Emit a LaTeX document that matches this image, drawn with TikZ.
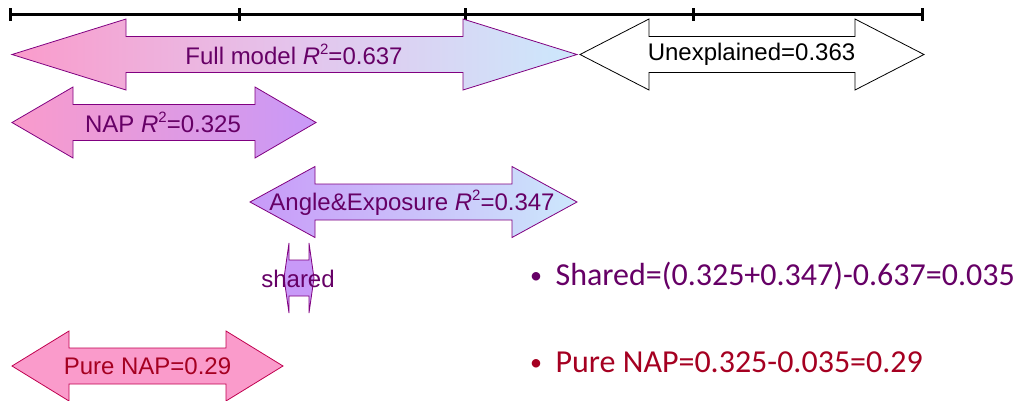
\documentclass[tikz,border=0pt]{standalone}
\usepackage{fontspec}
\setmainfont{Liberation Sans}
\newfontfamily\calib{Carlito}
\definecolor{txtpurp}{HTML}{660066}
\definecolor{txtred}{HTML}{A50021}
\definecolor{edgepurp}{HTML}{800080}
\definecolor{edgered}{HTML}{C0004F}
\definecolor{pinkf}{HTML}{FA9BCB}
\definecolor{purpf}{HTML}{C899F8}
\definecolor{bluef}{HTML}{CCE8FC}
\definecolor{lavf}{HTML}{E4C4EC}
% #1 style, #2 left tip x, #3 right tip x, #4 head length, #5 centre y, #6 head half height, #7 shaft half height
\newcommand{\dblarr}[7]{%
  \draw[#1] (#2,#5) -- (#2+#4,#5-#6) -- (#2+#4,#5-#7) -- (#3-#4,#5-#7)
    -- (#3-#4,#5-#6) -- (#3,#5) -- (#3-#4,#5+#6) -- (#3-#4,#5+#7)
    -- (#2+#4,#5+#7) -- (#2+#4,#5+#6) -- cycle;}
\newcommand{\rsq}{{\itshape R}\raisebox{0.42em}{\fontsize{15}{15}\selectfont 2}}
\newcommand{\smbullet}{\raisebox{0.06em}{\fontsize{24}{24}\selectfont •}}
\tikzset{
  arrlabel/.style={font=\fontsize{24}{28}\selectfont, inner sep=0pt, text=txtpurp},
  bullettxt/.style={font=\calib\fontsize{32}{38}\selectfont, inner sep=0pt, anchor=base west},
  axisline/.style={line width=3pt, black},
  shp/.style={draw=edgepurp, line width=0.8pt},
}
\begin{document}
\begin{tikzpicture}[x=1pt,y=-1pt]
\useasboundingbox (0,0) rectangle (1022,400);
% axis
\coordinate (a0) at (10,14);
\coordinate (a4) at (922,14);
\draw[axisline] (a0) -- (a4);
\foreach \x in {10,239,465,693,922}{
  \draw[axisline] (\x,8) -- (\x,21);
}
% arrows
\dblarr{shp, left color=pinkf, right color=bluef, middle color=lavf}{12}{577}{114}{54.5}{35.5}{18}
\dblarr{draw=black, line width=0.8pt, fill=white}{580}{924}{69}{54.5}{35.5}{18}
\dblarr{shp, left color=pinkf, right color=purpf}{12}{316}{61}{122.5}{35.5}{18}
\dblarr{shp, left color=purpf, right color=bluef}{250}{577}{65}{202}{35.5}{18}
\dblarr{shp, fill=purpf}{284}{314}{5}{278}{35}{18}
\dblarr{draw=edgered, line width=0.8pt, fill=pinkf}{12}{283}{57}{366}{35}{18}
% labels
\node[arrlabel] (full) at (294,54) {Full model \rsq=0.637};
\node[arrlabel, text=black] (unexp) at (751.5,54) {Unexplained=0.363};
\node[arrlabel] (nap) at (163,122.5) {NAP \rsq=0.325};
\node[arrlabel] (angle) at (412,202.5) {Angle\&Exposure \rsq=0.347};
\node[arrlabel] (shared) at (298,279) {shared};
\node[arrlabel, text=txtred] (pure) at (147.5,366.5) {Pure NAP=0.29};
% bullets
\node[bullettxt, text=txtpurp] (b1) at (530,285) {\smbullet\hspace{0.42em}Shared=(0.325+0.347)-0.637=0.035};
\node[bullettxt, text=txtred] (b2) at (530,372) {\smbullet\hspace{0.42em}Pure NAP=0.325-0.035=0.29};
\end{tikzpicture}
\end{document}
